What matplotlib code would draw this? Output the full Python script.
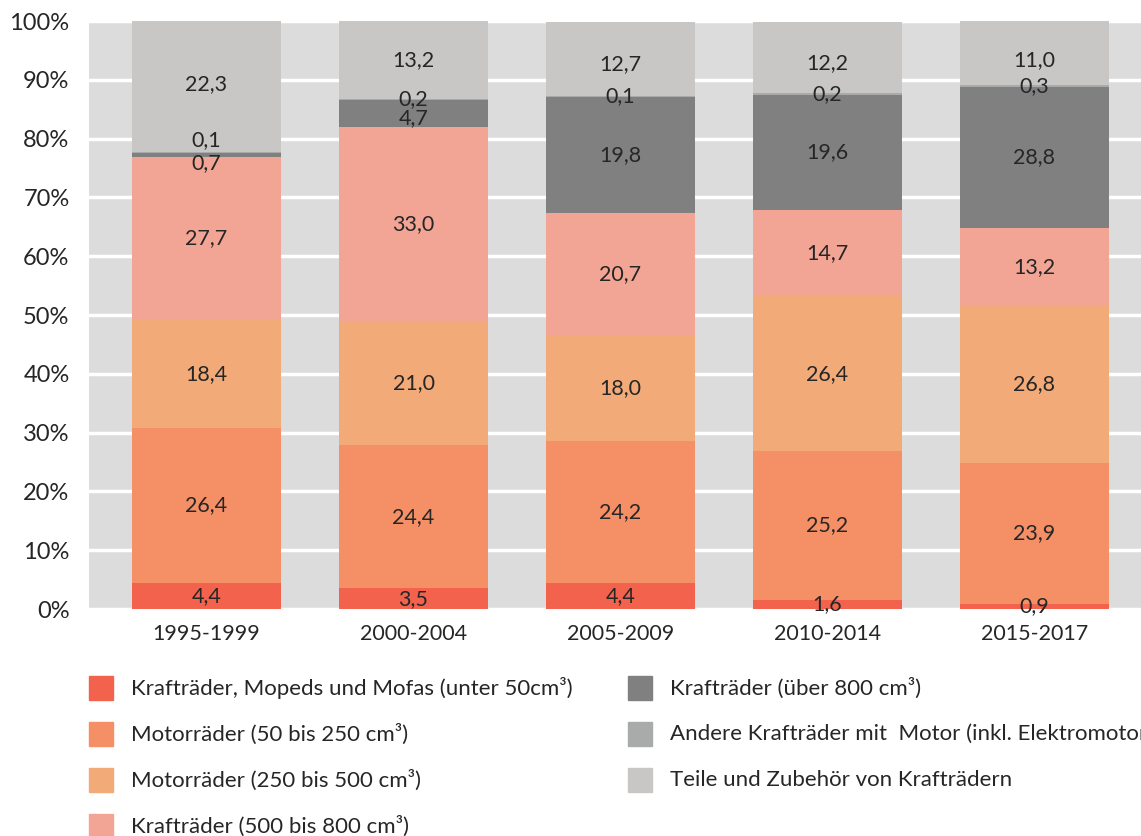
import numpy as np
import matplotlib.pyplot as plt
from matplotlib.patches import Rectangle

plt.rcParams['font.family'] = ['Lato', 'DejaVu Sans']

periods = ['1995-1999', '2000-2004', '2005-2009', '2010-2014', '2015-2017']

series_names = [
    'Krafträder, Mopeds und Mofas (unter 50cm³)',
    'Motorräder (50 bis 250 cm³)',
    'Motorräder (250 bis 500 cm³)',
    'Krafträder (500 bis 800 cm³)',
    'Krafträder (über 800 cm³)',
    'Andere Krafträder mit  Motor (inkl. Elektromotor)',
    'Teile und Zubehör von Krafträdern',
]
colors = ['#f2624c', '#f58f66', '#f2aa78', '#f2a595', '#7f807f', '#a9abab', '#c8c7c5']

unter50 = [4.4, 3.5, 4.4, 1.6, 0.9]
mot50_250 = [26.4, 24.4, 24.2, 25.2, 23.9]
mot250_500 = [18.4, 21.0, 18.0, 26.4, 26.8]
kr500_800 = [27.7, 33.0, 20.7, 14.7, 13.2]
ueber800 = [0.7, 4.7, 19.8, 19.6, 24.0]   # last bar drawn as ~24, labelled 28,8
andere = [0.1, 0.2, 0.1, 0.2, 0.3]
teile = [22.3, 13.2, 12.7, 12.2, 11.0]
series = [unter50, mot50_250, mot250_500, kr500_800, ueber800, andere, teile]

# printed labels that differ from the drawn height
label_override = {(4, 4): '28,8'}
# nudges (points) for crowded small labels
label_nudge = {(4, 0): -6, (5, 0): 9, (4, 1): -3, (6, 0): 2,
               (6, 2): -4, (6, 3): -4, (6, 4): -5}

W, H = 1141, 836
fig = plt.figure(figsize=(W / 100, H / 100), dpi=100)
ax = fig.add_axes([89 / W, 227 / H, 1063 / W, 588 / H])
ax.set_facecolor('#dcdcdc')

x = np.arange(len(periods))
bottom = np.zeros(len(periods))
txt = '#262626'
for s, (vals, c) in enumerate(zip(series, colors)):
    vals = np.array(vals)
    ax.bar(x, vals, bottom=bottom, width=0.72, color=c, zorder=3)
    for i, v in enumerate(vals):
        lab = label_override.get((s, i), f'{v:.1f}'.replace('.', ','))
        ax.annotate(lab, (x[i], bottom[i] + v / 2), xytext=(0, label_nudge.get((s, i), 0)),
                    textcoords='offset points', ha='center', va='center',
                    fontsize=15.5, color=txt, zorder=5)
    bottom += vals

ax.set_xlim(-0.568, 4.568)
ax.set_ylim(0, 100)
ax.set_yticks(np.arange(0, 101, 10))
ax.set_yticklabels([f'{t}%' for t in range(0, 101, 10)])
ax.set_xticks(x)
ax.set_xticklabels(periods)
ax.tick_params(axis='y', length=0, pad=14, labelsize=17, labelcolor=txt)
ax.tick_params(axis='x', length=0, pad=11, labelsize=15.5, labelcolor=txt)
ax.yaxis.grid(True, color='white', linewidth=2.5, zorder=1)
ax.set_axisbelow(True)
for sp in ax.spines.values():
    sp.set_visible(False)

# legend, two columns drawn by hand
for k, (name, c) in enumerate(zip(series_names, colors)):
    col, row = divmod(k, 4)
    x0 = 89 + col * 539
    yc = 688 + row * 46
    fig.patches.append(Rectangle((x0 / W, 1 - (yc + 12) / H), 24 / W, 24 / H,
                                 transform=fig.transFigure, color=c))
    fig.text((x0 + 42) / W, 1 - yc / H, name, ha='left', va='center',
             fontsize=16, color=txt)

fig.savefig('out.png', dpi=100)
